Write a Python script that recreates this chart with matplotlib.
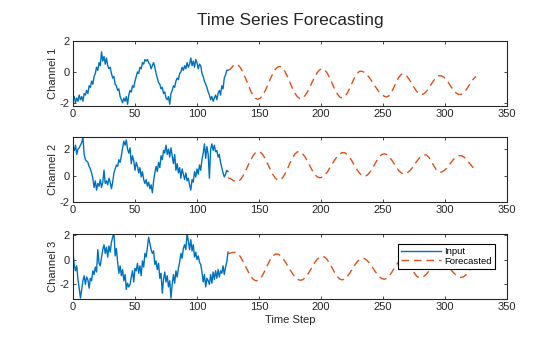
import numpy as np
import matplotlib
matplotlib.use("Agg")
import matplotlib.pyplot as plt

# ---------------- data ----------------
input_steps = np.arange(0, 126)
forecast_steps = np.arange(125, 326, 2)

ch1_input = [
    -1.8, -1.6, -2.0, -1.7, -1.9, -1.5, -1.8, -1.6, -1.9, -1.4,
    -1.5, -1.2, -1.4, -0.9, -1.0, -0.6, -0.8, -0.3, -0.1, 0.3,
    0.1, 0.6, 0.4, 1.3, 0.7, 1.0, 0.5, 0.9, 0.4, 0.2,
    0.3, -0.1, -0.4, -0.3, -0.8, -0.9, -1.2, -1.1, -1.6, -1.8,
    -2.0, -1.7, -1.9, -1.6, -2.1, -1.5, -1.2, -1.3, -0.9, -1.0,
    -0.6, -0.3, 0.0, -0.1, 0.3, 0.2, 0.6, 0.5, 0.8, 0.7,
    0.8, 0.6, 0.5, 0.2, 0.4, 0.6, 0.3, -0.1, -0.4, -0.7,
    -0.8, -1.1, -1.0, -1.4, -1.3, -1.7, -1.8, -1.6, -2.1, -1.4,
    -1.2, -0.9, -1.0, -0.6, -0.4, -0.5, -0.1, 0.0, 0.3, 0.1,
    0.4, 0.2, 0.6, 0.3, 0.5, 0.9, 0.4, 0.7, 0.3, 0.8,
    0.6, 0.2, 0.5, 0.4, -0.1, -0.3, -0.6, -0.8, -1.0, -1.3,
    -1.5, -1.8, -1.6, -1.9, -1.7, -1.5, -1.8, -1.4, -1.2, -1.5,
    -0.9, -1.1, -0.4, -0.2, 0.1, 0.1,
]

ch2_input = [
    2.2, 1.9, 2.3, 1.6, 2.0, 2.1, 2.3, 2.5, 2.9, 1.6,
    1.2, 1.1, 1.0, 0.7, 0.5, 0.2, -0.2, -0.9, -0.4, -1.1,
    -0.6, -0.8, -0.3, -0.9, -0.5, 0.4, -0.6, -0.4, -0.7, -0.2,
    -0.5, -1.0, -0.5, 0.2, 0.5, 0.8, 0.7, 1.2, 1.0, 1.5,
    2.1, 2.6, 2.3, 2.7, 2.0, 1.7, 2.1, 0.9, 1.5, 1.1,
    0.4, 1.0, 0.7, 0.2, 0.6, -0.1, 0.3, -0.3, -0.6, -0.3,
    -0.8, -0.5, -1.0, -0.7, -1.3, -0.4, 0.2, 0.7, 0.3, 1.0,
    0.6, 1.5, 1.2, 1.9, 1.7, 2.3, 1.6, 2.0, 1.4, 2.1,
    1.5, 0.9, 1.6, 0.4, 0.9, 0.2, 0.6, -0.2, 0.5, 0.1,
    -0.3, 0.2, -0.4, -0.2, -0.7, -1.1, -0.3, -0.5, 0.3, -0.1,
    0.5, 0.1, 0.8, 0.4, 1.2, 1.7, 2.4, 1.3, 2.2, 1.6,
    -0.2, 2.0, 2.4, 1.9, 2.3, 1.8, 1.9, 1.4, 1.6, 1.0,
    0.6, 0.2, -0.1, 0.1, 0.4, 0.3,
]

ch3_input = [
    0.5, -0.4, -0.9, -0.5, -1.6, -2.3, -3.1, -2.4, -1.7, -1.3,
    -2.0, -1.4, -1.6, -2.3, -1.5, -1.7, -0.9, -1.2, -0.6, -1.0,
    0.8, -0.3, -0.5, 0.2, 0.8, 1.2, 0.5, 1.0, 0.2, 1.1,
    0.6, 1.4, 1.8, 2.2, 0.3, 0.9, -0.2, -1.1, -0.5, -1.3,
    -0.8, -1.7, -1.2, -2.4, -1.9, -2.2, -2.0, -1.4, -0.9, -1.8,
    -0.7, -0.9, -0.3, -1.1, -0.5, -1.3, -0.1, -0.6, 0.5, 0.2,
    1.0, 1.8, 1.3, 0.8, 0.5, 0.7, -0.4, -0.1, -0.8, -0.3,
    -1.5, -1.1, -2.7, -1.6, -1.0, -1.8, -1.3, -2.2, -1.7, -3.1,
    -2.0, -1.2, -1.9, -0.9, -1.4, -0.7, -0.2, 0.5, 0.1, 0.9,
    1.2, 0.8, 2.1, 1.5, 0.8, 1.6, 0.7, 1.2, 0.2, 0.6,
    0.0, 0.3, -0.2, -0.4, -1.0, -1.8, -1.2, -2.2, -1.5, -1.7,
    -2.0, -1.2, -1.9, -1.0, -1.6, -0.9, -1.5, -0.8, -1.4, -0.9,
    -1.1, -0.5, -1.2, -0.6, -0.2, 0.6,
]

ch1_forecast = [
    0.10, 0.19, 0.38, 0.49, 0.46, 0.28, -0.01, -0.39, -0.79, -1.18,
    -1.50, -1.71, -1.78, -1.71, -1.52, -1.22, -0.86, -0.48, -0.13, 0.15,
    0.31, 0.35, 0.24, 0.01, -0.31, -0.69, -1.07, -1.39, -1.62, -1.73,
    -1.70, -1.55, -1.30, -0.98, -0.64, -0.31, -0.04, 0.14, 0.20, 0.13,
    -0.08, -0.38, -0.74, -1.11, -1.41, -1.62, -1.69, -1.62, -1.40, -1.09,
    -0.73, -0.38, -0.12, 0.03, 0.04, -0.03, -0.17, -0.37, -0.60, -0.85,
    -1.09, -1.31, -1.47, -1.58, -1.62, -1.54, -1.30, -0.96, -0.61, -0.32,
    -0.15, -0.14, -0.26, -0.47, -0.73, -1.01, -1.25, -1.41, -1.47, -1.42,
    -1.27, -1.05, -0.79, -0.55, -0.36, -0.25, -0.25, -0.34, -0.51, -0.73,
    -0.98, -1.20, -1.37, -1.46, -1.46, -1.35, -1.17, -0.92, -0.67, -0.45,
    -0.30,
]

ch2_forecast = [
    -0.17, -0.23, -0.35, -0.46, -0.45, -0.31, -0.04, 0.32, 0.73, 1.12,
    1.47, 1.71, 1.81, 1.78, 1.59, 1.28, 0.89, 0.48, 0.11, -0.18,
    -0.33, -0.33, -0.17, 0.13, 0.52, 0.95, 1.34, 1.64, 1.80, 1.80,
    1.67, 1.43, 1.10, 0.73, 0.38, 0.09, -0.10, -0.17, -0.12, 0.03,
    0.26, 0.56, 0.87, 1.18, 1.44, 1.63, 1.74, 1.73, 1.61, 1.39,
    1.10, 0.77, 0.45, 0.19, 0.01, -0.05, 0.01, 0.20, 0.47, 0.80,
    1.13, 1.40, 1.59, 1.65, 1.59, 1.43, 1.18, 0.89, 0.59, 0.34,
    0.18, 0.12, 0.17, 0.31, 0.52, 0.78, 1.05, 1.29, 1.47, 1.57,
    1.56, 1.39, 1.09, 0.74, 0.44, 0.27, 0.26, 0.36, 0.53, 0.76,
    1.01, 1.24, 1.41, 1.51, 1.51, 1.42, 1.25, 1.03, 0.79, 0.57,
    0.40,
]

ch3_forecast = [
    0.50, 0.52, 0.57, 0.58, 0.47, 0.23, -0.12, -0.51, -0.92, -1.28,
    -1.55, -1.69, -1.69, -1.53, -1.23, -0.84, -0.41, -0.02, 0.28, 0.44,
    0.45, 0.34, 0.13, -0.15, -0.47, -0.81, -1.13, -1.39, -1.58, -1.66,
    -1.63, -1.48, -1.23, -0.91, -0.57, -0.24, 0.03, 0.21, 0.27, 0.20,
    -0.01, -0.32, -0.68, -1.04, -1.35, -1.56, -1.63, -1.57, -1.39, -1.12,
    -0.80, -0.47, -0.19, 0.01, 0.11, 0.08, -0.05, -0.27, -0.55, -0.85,
    -1.14, -1.37, -1.53, -1.58, -1.51, -1.32, -1.03, -0.71, -0.39, -0.15,
    -0.02, -0.02, -0.16, -0.42, -0.74, -1.05, -1.31, -1.45, -1.46, -1.35,
    -1.17, -0.92, -0.65, -0.40, -0.22, -0.11, -0.11, -0.20, -0.37, -0.59,
    -0.83, -1.07, -1.26, -1.39, -1.44, -1.38, -1.21, -0.96, -0.68, -0.43,
    -0.26,
]

channel_labels = ["Channel 1", "Channel 2", "Channel 3"]
y_limits = [(-2.21, 2.0), (-2.0, 2.92), (-3.17, 2.06)]
y_ticks = [-2, 0, 2]
x_ticks = [0, 50, 100, 150, 200, 250, 300, 350]
title_text = "Time Series Forecasting"
xlabel_text = "Time Step"
legend_labels = ["Input", "Forecasted"]

# ---------------- style ----------------
plt.rcParams['font.family'] = ['Liberation Sans', 'DejaVu Sans']
plt.rcParams['axes.unicode_minus'] = False
axis_color = "#262626"
blue = "#0072BD"
orange = "#D95319"

fig = plt.figure(figsize=(5.6, 3.37), dpi=100)
W, H = 560, 337
ax_px = [(41, 106), (137, 202), (234, 299)]

inputs = [ch1_input, ch2_input, ch3_input]
forecasts = [ch1_forecast, ch2_forecast, ch3_forecast]

for i in range(3):
    top, bot = ax_px[i]
    ax = fig.add_axes([73 / W, 1 - bot / H, 434 / W, (bot - top) / H])
    l1, = ax.plot(input_steps, inputs[i], color=blue, lw=1.0)
    l2, = ax.plot(forecast_steps, forecasts[i], color=orange, lw=1.0,
                  linestyle=(0, (5.5, 3.5)))
    ax.set_xlim(0, 350)
    ax.set_ylim(*y_limits[i])
    ax.set_xticks(x_ticks)
    ax.set_yticks(y_ticks)
    ax.tick_params(direction='in', top=True, right=True, length=2.5,
                   width=0.6, colors=axis_color, labelsize=8, pad=2.5)
    for s in ax.spines.values():
        s.set_color(axis_color)
        s.set_linewidth(0.8)
    ax.set_ylabel(channel_labels[i], fontsize=8, color=axis_color, va='center')
    ax.yaxis.set_label_coords(-0.047, 0.5)
    if i == 2:
        ax.set_xlabel(xlabel_text, fontsize=8, color=axis_color, va='center')
        ax.xaxis.set_label_coords(0.5, -0.32)
        leg = ax.legend([l1, l2], legend_labels, loc='upper right',
                        bbox_to_anchor=(0.972, 0.846), borderaxespad=0,
                        fontsize=6.8, handlelength=4.2, handletextpad=0.4,
                        labelspacing=0.1, borderpad=0.3, fancybox=False,
                        framealpha=1, edgecolor='black')
        leg.get_frame().set_linewidth(0.8)

fig.text(290 / W, 1 - 20 / H, title_text, ha='center', va='center',
         fontsize=12.4, color=axis_color)

fig.savefig("out.png", dpi=100)
